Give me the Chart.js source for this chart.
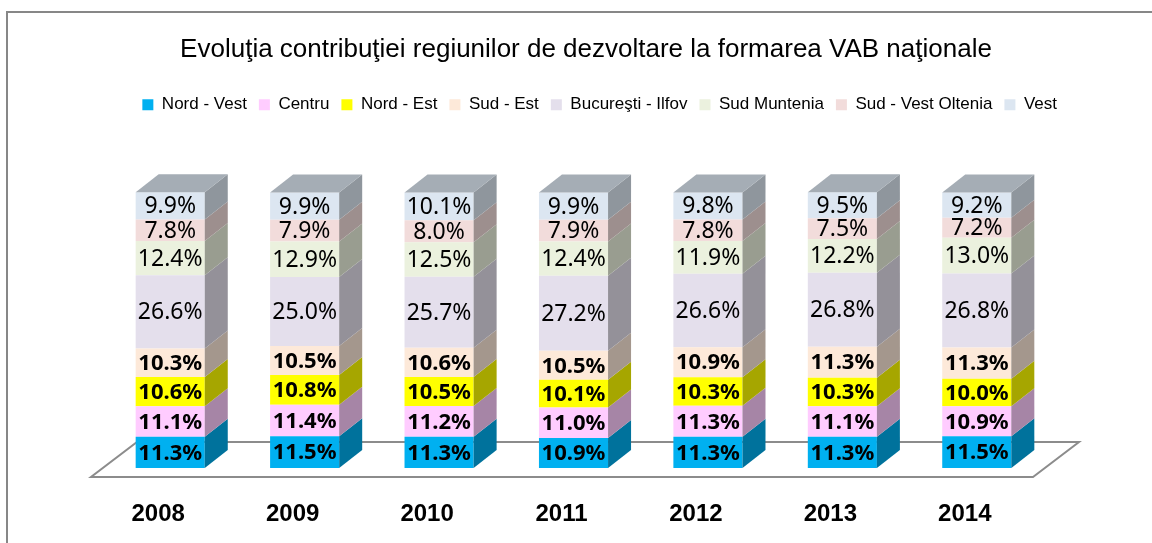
<!DOCTYPE html>
<html>
<head>
<meta charset="utf-8">
<script src="https://cdn.jsdelivr.net/npm/chart.js@4.4.0/dist/chart.umd.min.js"></script>
<style>
  html, body { margin: 0; padding: 0; background: #fff; }
  #wrap { width: 1152px; height: 543px; }
</style>
</head>
<body>
<div id="wrap"><canvas id="vabChart" width="1152" height="543"></canvas></div>
<script>
const years = ['2008', '2009', '2010', '2011', '2012', '2013', '2014'];

// contributia fiecarei regiuni (%)
const nordVest = [11.3, 11.5, 11.3, 10.9, 11.3, 11.3, 11.5];
const centru = [11.1, 11.4, 11.2, 11.0, 11.3, 11.1, 10.9];
const nordEst = [10.6, 10.8, 10.5, 10.1, 10.3, 10.3, 10.0];
const sudEst = [10.3, 10.5, 10.6, 10.5, 10.9, 11.3, 11.3];
const bucurestiIlfov = [26.6, 25.0, 25.7, 27.2, 26.6, 26.8, 26.8];
const sudMuntenia = [12.4, 12.9, 12.5, 12.4, 11.9, 12.2, 13.0];
const sudVestOltenia = [7.8, 7.9, 8.0, 7.9, 7.8, 7.5, 7.2];
const vest = [9.9, 9.9, 10.1, 9.9, 9.8, 9.5, 9.2];

const regionNames = ['Nord - Vest', 'Centru', 'Nord - Est', 'Sud - Est', 'Bucureşti - Ilfov', 'Sud Muntenia', 'Sud - Vest Oltenia', 'Vest'];
const regionValues = [nordVest, centru, nordEst, sudEst, bucurestiIlfov, sudMuntenia, sudVestOltenia, vest];
const regionColors = ['#00B0F0', '#FFCCFF', '#FFFF00', '#FDE9D9', '#E4DFEC', '#EBF1DE', '#F2DCDB', '#DCE6F1'];
const boldLabels = [true, true, true, true, false, false, false, false];

const DX = 23, DY = -18; // adancimea 3D a coloanelor

function shade(hex, f) {
    const n = parseInt(hex.slice(1), 16);
    const r = Math.round(((n >> 16) & 255) * f);
    const g = Math.round(((n >> 8) & 255) * f);
    const b = Math.round((n & 255) * f);
    return `rgb(${r},${g},${b})`;
}

function poly(ctx, pts, fill) {
    ctx.beginPath();
    ctx.moveTo(pts[0][0], pts[0][1]);
    for (let i = 1; i < pts.length; i++) ctx.lineTo(pts[i][0], pts[i][1]);
    ctx.closePath();
    ctx.fillStyle = fill;
    ctx.fill();
}

// chenarul graficului
const framePlugin = {
    id: 'frame',
    beforeDraw(chart) {
        const ctx = chart.ctx;
        ctx.save();
        ctx.strokeStyle = '#878787';
        ctx.lineWidth = 2;
        ctx.beginPath();
        ctx.moveTo(7, 543);
        ctx.lineTo(7, 12);
        ctx.lineTo(1152, 12);
        ctx.stroke();
        ctx.restore();
    }
};

// podeaua si fetele laterale
const cubePlugin = {
    id: 'cube',
    beforeDatasetsDraw(chart) {
        const ctx = chart.ctx;
        const a = chart.chartArea;
        const front = a.bottom + 9, back = a.bottom - 26;
        ctx.save();
        ctx.strokeStyle = '#8c8c8c';
        ctx.lineWidth = 2;
        ctx.beginPath();
        ctx.moveTo(a.left - 12, front);
        ctx.lineTo(a.right - 11, front);
        ctx.lineTo(a.right + 35, back);
        ctx.lineTo(a.left + 34, back);
        ctx.closePath();
        ctx.stroke();
        ctx.restore();
    },
    afterDatasetsDraw(chart) {
        const ctx = chart.ctx;
        const last = chart.data.datasets.length - 1;
        ctx.save();
        chart.data.datasets.forEach((ds, di) => {
            chart.getDatasetMeta(di).data.forEach(bar => {
                const xl = bar.x - bar.width / 2, xr = bar.x + bar.width / 2;
                poly(ctx, [[xr, bar.y], [xr + DX, bar.y + DY], [xr + DX, bar.base + DY], [xr, bar.base]], shade(ds.backgroundColor, 0.65));
                if (di === last) {
                    poly(ctx, [[xl, bar.y], [xl + DX, bar.y + DY], [xr + DX, bar.y + DY], [xr, bar.y]], shade(ds.backgroundColor, 0.75));
                }
            });
        });
        // etichetele valorilor
        ctx.fillStyle = '#000';
        ctx.textAlign = 'center';
        ctx.textBaseline = 'middle';
        chart.data.datasets.forEach((ds, di) => {
            ctx.font = boldLabels[di] ? 'bold 22px "Noto Sans"' : '23px "Noto Sans"';
            chart.getDatasetMeta(di).data.forEach((bar, i) => {
                ctx.fillText(ds.data[i].toFixed(1) + '%', bar.x, (bar.y + bar.base) / 2 + 1);
            });
        });
        ctx.restore();
    }
};

const datasets = regionNames.map((name, i) => ({
    label: name,
    data: regionValues[i],
    backgroundColor: regionColors[i],
    borderWidth: 0,
    categoryPercentage: 1,
    barPercentage: 0.514
}));

new Chart(document.getElementById('vabChart'), {
    type: 'bar',
    data: { labels: years, datasets: datasets },
    options: {
        responsive: false,
        animation: false,
        layout: { padding: { top: 12, left: 103, right: 83, bottom: 15 } },
        plugins: {
            title: {
                display: true,
                text: 'Evoluţia contribuţiei regiunilor de dezvoltare la formarea VAB naţionale',
                color: '#000',
                font: { family: '"Liberation Sans"', size: 26, weight: 'normal' },
                padding: { top: 22, bottom: 19 }
            },
            legend: {
                position: 'top',
                align: 'end',
                labels: {
                    color: '#000',
                    font: { family: '"Liberation Sans"', size: 17 },
                    boxWidth: 11,
                    boxHeight: 11,
                    padding: 12
                }
            },
            tooltip: { enabled: false }
        },
        scales: {
            x: {
                stacked: true,
                grid: { display: false, drawTicks: false },
                border: { display: false },
                ticks: {
                    color: '#000',
                    font: { family: '"Liberation Sans"', size: 24, weight: 'bold' },
                    padding: 32,
                    labelOffset: -12
                },
                afterFit(scale) { scale.height = 60; }
            },
            y: {
                stacked: true,
                position: 'right',
                min: 0,
                max: 125,
                grid: { display: false },
                border: { display: false },
                ticks: { display: false },
                afterFit(scale) { scale.width = 25; }
            }
        }
    },
    plugins: [framePlugin, cubePlugin]
});
</script>
</body>
</html>
